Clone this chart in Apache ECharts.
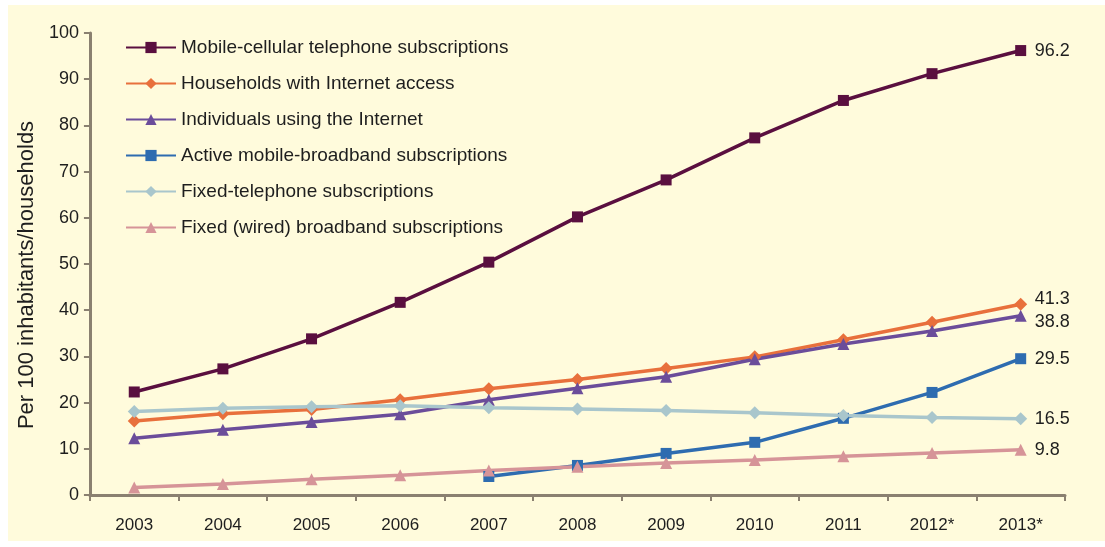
<!DOCTYPE html>
<html>
<head>
<meta charset="utf-8">
<script src="https://cdn.jsdelivr.net/npm/echarts@6/dist/echarts.min.js"></script>
<style>
  html, body { margin: 0; padding: 0; background: #ffffff; }
  #chart { position: absolute; left: 8px; top: 5px; width: 1097px; height: 536px; }
</style>
</head>
<body>
<div id="chart"></div>
<script>
// ICT 指标发展趋势 2003-2013
const years = ['2003', '2004', '2005', '2006', '2007', '2008', '2009', '2010', '2011', '2012*', '2013*']
const yTicks = [0, 10, 20, 30, 40, 50, 60, 70, 80, 90, 100]

const mobileCellular = [22.3, 27.3, 33.8, 41.7, 50.4, 60.2, 68.2, 77.3, 85.4, 91.2, 96.2]
const householdsInternet = [16.0, 17.6, 18.5, 20.6, 23.0, 25.0, 27.4, 29.9, 33.6, 37.4, 41.3]
const individualsInternet = [12.3, 14.1, 15.8, 17.5, 20.6, 23.1, 25.6, 29.4, 32.7, 35.5, 38.8]
const mobileBroadband = [null, null, null, null, 4.0, 6.4, 9.0, 11.4, 16.6, 22.2, 29.5]
const fixedTelephone = [18.1, 18.8, 19.1, 19.3, 18.9, 18.6, 18.3, 17.8, 17.2, 16.8, 16.5]
const fixedBroadband = [1.6, 2.4, 3.4, 4.3, 5.3, 6.1, 6.9, 7.6, 8.4, 9.1, 9.8]

const chart = echarts.init(document.getElementById('chart'))

// labelDy: 末端标签的上下微调，避免 41.3 和 38.8 重叠
function makeSeries(name, data, color, symbol, labelDy) {
  return {
    name: name,
    type: 'line',
    data: data,
    symbol: symbol,
    symbolSize: symbol === 'triangle' ? 12 : (symbol === 'diamond' ? 13 : 11),
    color: color,
    lineStyle: { width: 3.5, color: color },
    itemStyle: { color: color },
    endLabel: {
      show: true,
      formatter: '{c}',
      distance: 14,
      offset: [0, labelDy || 0],
      color: '#1e1e1e',
      fontSize: 18,
      fontFamily: 'Liberation Sans',
    },
    animation: false,
  }
}

const option = {
  backgroundColor: '#fffbdc',
  textStyle: { fontFamily: 'Liberation Sans' },
  legend: {
    orient: 'vertical',
    left: 112,
    top: 28,
    itemWidth: 50,
    itemHeight: 14,
    itemGap: 17,
    textStyle: { fontSize: 19, color: '#1e1e1e' },
  },
  grid: {
    left: 80,
    right: 40,
    top: 28,
    bottom: 46,
  },
  xAxis: {
    type: 'category',
    data: years,
    boundaryGap: true,
    axisLine: { lineStyle: { color: '#8a8070', width: 3 } },
    axisTick: { show: true, length: 6, lineStyle: { color: '#8a8070', width: 2 } },
    axisLabel: { fontSize: 17, color: '#1e1e1e', margin: 22 },
  },
  yAxis: {
    type: 'value',
    min: yTicks[0],
    max: yTicks[yTicks.length - 1],
    interval: 10,
    name: 'Per 100 inhabitants/households',
    nameLocation: 'middle',
    nameGap: 47,
    nameTextStyle: { fontSize: 22, color: '#1e1e1e', padding: [0, 22, 0, 0] },
    axisLine: { show: true, lineStyle: { color: '#8a8070', width: 3 } },
    axisTick: { show: true, length: 6, lineStyle: { color: '#8a8070', width: 2 } },
    axisLabel: { fontSize: 18, color: '#1e1e1e', margin: 11 },
    splitLine: { show: false },
  },
  series: [
    makeSeries('Mobile-cellular telephone subscriptions', mobileCellular, '#5a0f3f', 'rect'),
    makeSeries('Households with Internet access', householdsInternet, '#e8703c', 'diamond', -5),
    makeSeries('Individuals using the Internet', individualsInternet, '#6b4d9a', 'triangle', 6),
    makeSeries('Active mobile-broadband subscriptions', mobileBroadband, '#2e6cb0', 'rect'),
    makeSeries('Fixed-telephone subscriptions', fixedTelephone, '#a9c6cc', 'diamond'),
    makeSeries('Fixed (wired) broadband subscriptions', fixedBroadband, '#d69498', 'triangle'),
  ],
}
chart.setOption(option)
</script>
</body>
</html>
